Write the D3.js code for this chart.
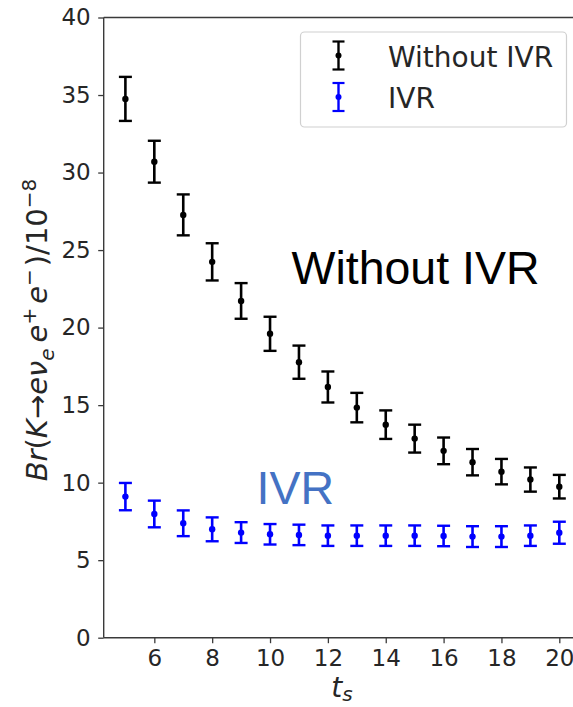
<!DOCTYPE html>
<html>
<head>
<meta charset="utf-8">
<script src="https://cdnjs.cloudflare.com/ajax/libs/d3/7.8.5/d3.min.js"></script>
<style>
  html, body { margin: 0; padding: 0; background: #fff; }
  svg { display: block; }
</style>
</head>
<body>
<div id="chart"></div>
<script>
// ---- data ----
const ts = [5, 6, 7, 8, 9, 10, 11, 12, 13, 14, 15, 16, 17, 18, 19, 20];
const withoutIVR = [34.75, 30.7, 27.27, 24.24, 21.72, 19.6, 17.77, 16.17, 14.84, 13.74, 12.84, 12.05, 11.32, 10.71, 10.2, 9.74];
const withoutIVRErr = [1.42, 1.35, 1.32, 1.2, 1.15, 1.1, 1.07, 1.0, 0.95, 0.92, 0.9, 0.86, 0.85, 0.82, 0.78, 0.76];
const ivr = [9.1, 7.98, 7.38, 6.99, 6.78, 6.67, 6.63, 6.58, 6.58, 6.58, 6.58, 6.56, 6.52, 6.52, 6.58, 6.77];
const ivrErr = [0.88, 0.86, 0.83, 0.77, 0.67, 0.66, 0.66, 0.66, 0.66, 0.66, 0.66, 0.66, 0.67, 0.67, 0.66, 0.71];
const xTicks = [6, 8, 10, 12, 14, 16, 18, 20];
const yTicks = [0, 5, 10, 15, 20, 25, 30, 35, 40];
const seriesNames = ["Without IVR", "IVR"];
const seriesColors = ["#000000", "#0000ff"];

(function () {
const W = 573, H = 707;
const pL = 103.7, pT = 17.5, pR = 581, pB = 637.7;

const svg = d3.select("#chart").append("svg")
  .attr("width", W).attr("height", H)
  .style("overflow", "hidden");

const x = d3.scaleLinear().domain([4.25, 20.75]).range([pL, pR]);
const y = d3.scaleLinear().domain([0, 40]).range([pB, pT]);

const mplFont = "'DejaVu Sans', sans-serif";
const spineColor = "#3a3a3a";

// axes
const gy = svg.append("g").attr("transform", `translate(${pL},0)`)
  .call(d3.axisLeft(y).tickValues(yTicks).tickSize(5.5).tickPadding(7.5).tickFormat(d3.format("d")));
const gx = svg.append("g").attr("transform", `translate(0,${pB})`)
  .call(d3.axisBottom(x).tickValues(xTicks).tickSize(5.5).tickPadding(6.8).tickFormat(d3.format("d")));

[gx, gy].forEach(g => {
  g.select(".domain").attr("stroke", spineColor).attr("stroke-width", 1.4);
  g.selectAll(".tick line").attr("stroke", spineColor).attr("stroke-width", 1.3);
  g.selectAll(".tick text").attr("fill", "#262626")
    .style("font-family", mplFont).style("font-size", "23px");
});
gx.select(".domain").attr("d", `M${pL},0H${pR}`);
gy.select(".domain").attr("d", `M0,${pB}V${pT}`);

// top spine
svg.append("line")
  .attr("x1", pL).attr("x2", pR).attr("y1", pT).attr("y2", pT)
  .attr("stroke", spineColor).attr("stroke-width", 1.4);
// right spine (falls outside the visible area, as in the reference crop)
svg.append("line")
  .attr("x1", pR).attr("x2", pR).attr("y1", pT).attr("y2", pB)
  .attr("stroke", spineColor).attr("stroke-width", 1.4);

// error bar series
const capHalf = 6.5;
function drawSeries(vals, errs, color) {
  const data = ts.map((t, i) => ({ t, v: vals[i], e: errs[i] }));
  const g = svg.append("g");
  const eb = g.selectAll("g.eb").data(data).enter().append("g");
  eb.append("line")
    .attr("x1", d => x(d.t)).attr("x2", d => x(d.t))
    .attr("y1", d => y(d.v + d.e)).attr("y2", d => y(d.v - d.e))
    .attr("stroke", color).attr("stroke-width", 2.6);
  eb.append("line")
    .attr("x1", d => x(d.t) - capHalf).attr("x2", d => x(d.t) + capHalf)
    .attr("y1", d => y(d.v + d.e)).attr("y2", d => y(d.v + d.e))
    .attr("stroke", color).attr("stroke-width", 2.4);
  eb.append("line")
    .attr("x1", d => x(d.t) - capHalf).attr("x2", d => x(d.t) + capHalf)
    .attr("y1", d => y(d.v - d.e)).attr("y2", d => y(d.v - d.e))
    .attr("stroke", color).attr("stroke-width", 2.4);
  eb.append("circle")
    .attr("cx", d => x(d.t)).attr("cy", d => y(d.v)).attr("r", 3.2)
    .attr("fill", color);
}
drawSeries(withoutIVR, withoutIVRErr, seriesColors[0]);
drawSeries(ivr, ivrErr, seriesColors[1]);

// legend
const lg = svg.append("g");
lg.append("rect")
  .attr("x", 300.5).attr("y", 32).attr("width", 266).attr("height", 95)
  .attr("rx", 4).attr("ry", 4)
  .attr("fill", "#ffffff").attr("fill-opacity", 0.8)
  .attr("stroke", "#d0d0d0").attr("stroke-width", 1.2);
const legRows = [
  { name: seriesNames[0], color: seriesColors[0], cy: 55.5, base: 67 },
  { name: seriesNames[1], color: seriesColors[1], cy: 97, base: 108 }
];
legRows.forEach(r => {
  const hx = 338.5, hh = 14;
  lg.append("line").attr("x1", hx).attr("x2", hx).attr("y1", r.cy - hh).attr("y2", r.cy + hh)
    .attr("stroke", r.color).attr("stroke-width", 2.4);
  [r.cy - hh, r.cy + hh].forEach(yy => lg.append("line")
    .attr("x1", hx - 6).attr("x2", hx + 6).attr("y1", yy).attr("y2", yy)
    .attr("stroke", r.color).attr("stroke-width", 2.2));
  lg.append("circle").attr("cx", hx).attr("cy", r.cy).attr("r", 3).attr("fill", r.color);
  lg.append("text").attr("x", 388).attr("y", r.base)
    .style("font-family", mplFont).style("font-size", "28px").attr("fill", "#262626")
    .text(r.name);
});

// annotations
svg.append("text").attr("x", 291.5).attr("y", 283.5)
  .style("font-family", "'Liberation Sans', Arial, sans-serif").style("font-size", "46.5px")
  .attr("fill", "#000").text("Without IVR");
svg.append("text").attr("x", 256.5).attr("y", 504)
  .style("font-family", "'Liberation Sans', Arial, sans-serif").style("font-size", "46.5px")
  .attr("fill", "#4472c4").text("IVR");

// y label (mathtext-like)
const yl = svg.append("text")
  .attr("transform", "translate(46.5,330) rotate(-90)")
  .attr("text-anchor", "middle")
  .style("font-family", mplFont).style("font-size", "29px").attr("fill", "#262626");
const parts = [
  { t: "Br", i: true }, { t: "(" }, { t: "K", i: true }, { t: "→" },
  { t: "e", i: true }, { t: "ν", i: true }, { t: "e", i: true, sub: true },
  { t: "e", i: true, dx: 6 }, { t: "+", sup: true }, { t: "e", i: true, dx: 4 }, { t: "−", sup: true },
  { t: ")", dx: 3 }, { t: "/10" }, { t: "−8", sup: true }
];
let shift = 0;
parts.forEach(p => {
  const target = p.sub ? 7 : p.sup ? -11 : 0;
  const sp = yl.append("tspan").text(p.t)
    .attr("dy", target - shift)
    .style("font-style", p.i ? "italic" : "normal")
    .style("font-size", (p.sub || p.sup) ? "20px" : "29px");
  if (p.dx) sp.attr("dx", p.dx);
  shift = target;
});

// x label
const xl = svg.append("text").attr("x", 342).attr("y", 697)
  .attr("text-anchor", "middle")
  .style("font-family", mplFont).style("font-size", "28px").attr("fill", "#262626");
xl.append("tspan").text("t").style("font-style", "italic");
xl.append("tspan").text("s").style("font-style", "italic").style("font-size", "20px").attr("dy", 4);
})();
</script>
</body>
</html>
